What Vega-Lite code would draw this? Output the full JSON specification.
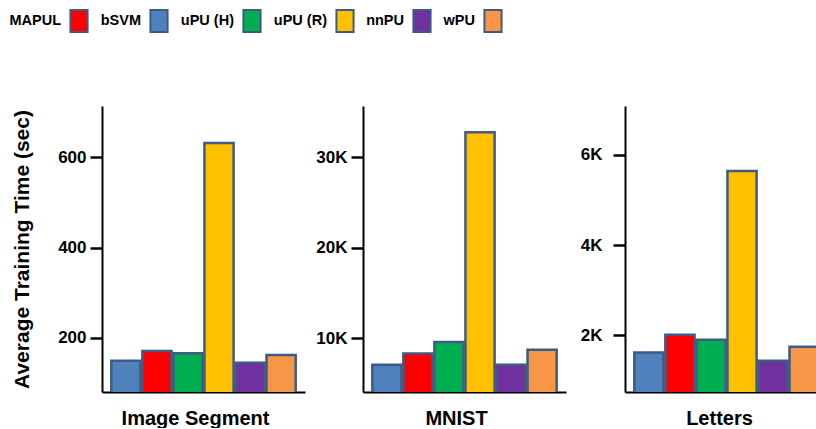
{
  "$schema": "https://vega.github.io/schema/vega-lite/v6.json",
  "padding": {"left": 10, "top": 9, "right": 0, "bottom": 0},
  "background": "#ffffff",
  "datasets": {
    "times": [
      {"dataset": "Image Segment", "method": "bSVM", "time": 149},
      {"dataset": "Image Segment", "method": "MAPUL", "time": 171},
      {"dataset": "Image Segment", "method": "uPU (H)", "time": 166},
      {"dataset": "Image Segment", "method": "uPU (R)", "time": 632},
      {"dataset": "Image Segment", "method": "nnPU", "time": 145},
      {"dataset": "Image Segment", "method": "wPU", "time": 162},
      {"dataset": "MNIST", "method": "bSVM", "time": 7050},
      {"dataset": "MNIST", "method": "MAPUL", "time": 8300},
      {"dataset": "MNIST", "method": "uPU (H)", "time": 9560},
      {"dataset": "MNIST", "method": "uPU (R)", "time": 32760},
      {"dataset": "MNIST", "method": "nnPU", "time": 7050},
      {"dataset": "MNIST", "method": "wPU", "time": 8700},
      {"dataset": "Letters", "method": "bSVM", "time": 1623},
      {"dataset": "Letters", "method": "MAPUL", "time": 2013},
      {"dataset": "Letters", "method": "uPU (H)", "time": 1903},
      {"dataset": "Letters", "method": "uPU (R)", "time": 5646},
      {"dataset": "Letters", "method": "nnPU", "time": 1440},
      {"dataset": "Letters", "method": "wPU", "time": 1748}
    ]
  },
  "data": {"name": "times"},
  "spacing": 8,
  "resolve": {"scale": {"x": "independent", "y": "independent", "color": "shared"}, "legend": {"color": "shared"}},
  "hconcat": [
    {
      "width": 203, "height": 286,
      "transform": [{"filter": "datum.dataset === 'Image Segment'"}],
      "mark": {"type": "bar", "stroke": "#3d5b83", "strokeWidth": 2.5, "clip": true},
      "encoding": {
        "x": {"field": "method", "type": "nominal", "sort": ["bSVM", "MAPUL", "uPU (H)", "uPU (R)", "nnPU", "wPU"],
              "scale": {"paddingInner": 0.06, "paddingOuter": 0.3},
              "axis": {"title": "Image Segment", "labels": false, "ticks": false, "titlePadding": 16, "titleFontSize": 20, "titleX": 93}},
        "y": {"field": "time", "type": "quantitative",
              "scale": {"domain": [80, 714], "nice": false, "zero": false},
              "axis": {"title": "Average Training Time (sec)", "titleFontSize": 21, "titlePadding": 24, "values": [200, 400, 600], "tickSize": 12, "labelPadding": 4, "minExtent": 46, "maxExtent": 46}},
        "color": {"field": "method", "type": "nominal",
                  "scale": {"domain": ["MAPUL", "bSVM", "uPU (H)", "uPU (R)", "nnPU", "wPU"], "range": ["#ff0000", "#4f81bd", "#00b050", "#ffc000", "#7030a0", "#f79646"]},
                  "legend": {"orient": "none", "legendX": -35, "legendY": -97}}
      }
    },
    {
      "width": 203, "height": 286,
      "transform": [{"filter": "datum.dataset === 'MNIST'"}],
      "mark": {"type": "bar", "stroke": "#3d5b83", "strokeWidth": 2.5, "clip": true},
      "encoding": {
        "x": {"field": "method", "type": "nominal", "sort": ["bSVM", "MAPUL", "uPU (H)", "uPU (R)", "nnPU", "wPU"],
              "scale": {"paddingInner": 0.06, "paddingOuter": 0.3},
              "axis": {"title": "MNIST", "labels": false, "ticks": false, "titlePadding": 16, "titleFontSize": 20, "titleX": 93}},
        "y": {"field": "time", "type": "quantitative",
              "scale": {"domain": [4030, 35670], "nice": false, "zero": false},
              "axis": {"title": null, "values": [10000, 20000, 30000], "labelExpr": "(datum.value / 1000) + 'K'", "tickSize": 12, "labelPadding": 4, "minExtent": 50, "maxExtent": 50}},
        "color": {"field": "method", "type": "nominal"}
      }
    },
    {
      "width": 203, "height": 286,
      "transform": [{"filter": "datum.dataset === 'Letters'"}],
      "mark": {"type": "bar", "stroke": "#3d5b83", "strokeWidth": 2.5, "clip": true},
      "encoding": {
        "x": {"field": "method", "type": "nominal", "sort": ["bSVM", "MAPUL", "uPU (H)", "uPU (R)", "nnPU", "wPU"],
              "scale": {"paddingInner": 0.06, "paddingOuter": 0.3},
              "axis": {"title": "Letters", "labels": false, "ticks": false, "titlePadding": 16, "titleFontSize": 20, "titleX": 94}},
        "y": {"field": "time", "type": "quantitative",
              "scale": {"domain": [745, 7085], "nice": false, "zero": false},
              "axis": {"title": null, "values": [2000, 4000, 6000], "labelExpr": "(datum.value / 1000) + 'K'", "tickSize": 12, "labelPadding": 11, "minExtent": 51, "maxExtent": 51}},
        "color": {"field": "method", "type": "nominal"}
      }
    }
  ],
  "config": {
    "view": {"stroke": null},
    "font": "Liberation Sans",
    "axis": {"grid": false, "domainColor": "#000000", "domainWidth": 2, "tickColor": "#000000", "tickWidth": 2.5,
             "labelColor": "#000000", "labelFont": "Liberation Sans", "labelFontSize": 17, "labelFontWeight": "bold",
             "titleColor": "#000000", "titleFont": "Liberation Sans", "titleFontWeight": "bold"},
    "legend": {"direction": "horizontal", "title": null,
               "symbolType": "M-0.78,-1H0.78V1H-0.78Z", "symbolSize": 484, "symbolStrokeColor": "#3d5b83", "symbolStrokeWidth": 2,
               "symbolOpacity": 1,
               "labelAlign": "right", "labelOffset": -30, "labelFont": "Liberation Sans", "labelFontSize": 14.5, "labelFontWeight": "bold", "labelColor": "#000000",
               "columnPadding": 8, "labelLimit": 200}
  }
}
